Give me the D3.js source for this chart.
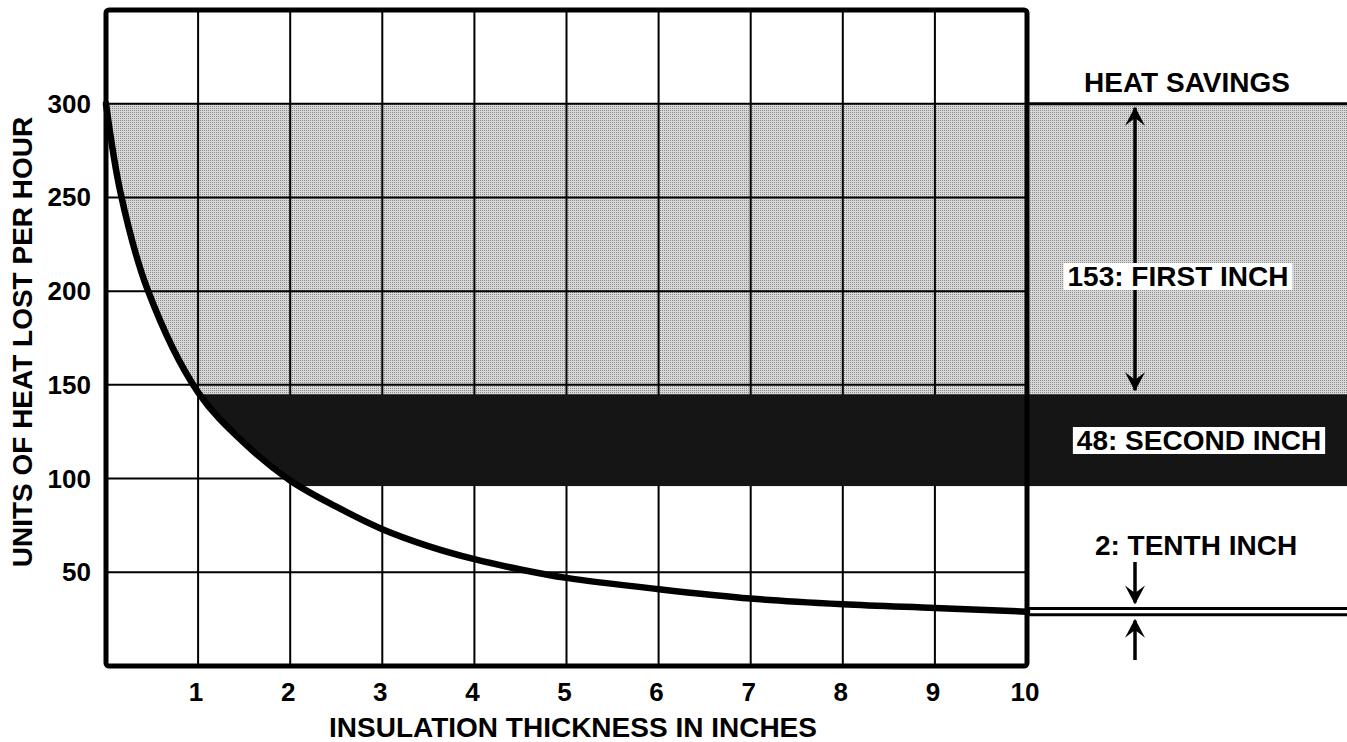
<!DOCTYPE html>
<html>
<head>
<meta charset="utf-8">
<script src="https://cdn.jsdelivr.net/npm/d3@7"></script>
<style>
  body { margin: 0; background: #fff; }
  text { font-family: "Liberation Sans", Arial, sans-serif; font-weight: bold; fill: #000; }
</style>
</head>
<body>
<div id="chart"></div>
<script>
// values
const thickness = [0, 0.16, 0.45, 1, 1.5, 2, 2.5, 3, 3.5, 4, 4.5, 5, 6, 7, 8, 9, 10];
const heatLost  = [300, 252, 201, 146, 119, 99, 85, 73, 64, 57, 51.5, 47, 41, 36, 33, 31, 29];

const xTicks = [1, 2, 3, 4, 5, 6, 7, 8, 9, 10];
const yTicks = [50, 100, 150, 200, 250, 300];

// heat savings bands: top of first inch, end of first inch, end of second inch
const bandLevels = [300, 145, 96];
// levels at 9 and 10 inches (the two close lines)
const tenthLevels = [30.7, 27.4];

const savingsLabels = ["153: FIRST INCH", "48: SECOND INCH", "2: TENTH INCH"];

// set the dimensions of the graph
const width = 1347, height = 742;

const svg = d3.select("#chart")
    .append("svg")
    .attr("width", width)
    .attr("height", height);

const x = d3.scaleLinear().domain([0, 10]).range([106, 1027]);
const y = d3.scaleLinear().domain([0, 350]).range([666, 10]);

const data = thickness.map((t, i) => ({t: t, v: heatLost[i]}));

const line = d3.line()
    .x(d => x(d.t))
    .y(d => y(d.v))
    .curve(d3.curveCatmullRom.alpha(0.5));

// halftone-like pattern for the light band
const defs = svg.append("defs");
const pat = defs.append("pattern")
    .attr("id", "dots")
    .attr("width", 2).attr("height", 2)
    .attr("patternUnits", "userSpaceOnUse");
pat.append("rect").attr("width", 2).attr("height", 2).attr("fill", "#d8d8d8");
pat.append("rect").attr("width", 1).attr("height", 1).attr("fill", "#8c8c8c");

// clip: everything to the right of / above the curve
const last = data[data.length - 1];
defs.append("clipPath").attr("id", "aboveCurve")
    .append("path")
    .attr("d", line(data) + `L${width},${y(last.v)}L${width},0L${x(0)},0Z`);

const bands = svg.append("g").attr("clip-path", "url(#aboveCurve)");

// first inch (light)
bands.append("rect")
    .attr("x", x(0)).attr("width", width - x(0))
    .attr("y", y(bandLevels[0])).attr("height", y(bandLevels[1]) - y(bandLevels[0]))
    .attr("fill", "url(#dots)");

// grid
const grid = svg.append("g").attr("stroke", "#000").attr("stroke-width", 2);
grid.selectAll(".vx").data(xTicks.slice(0, -1)).join("line")
    .attr("x1", d => x(d)).attr("x2", d => x(d))
    .attr("y1", y(350)).attr("y2", y(0));
grid.selectAll(".hy").data(yTicks).join("line")
    .attr("x1", x(0)).attr("x2", x(10))
    .attr("y1", d => y(d)).attr("y2", d => y(d));

// second inch (dark), drawn over the grid
svg.append("g").attr("clip-path", "url(#aboveCurve)")
    .append("rect")
    .attr("x", x(0)).attr("width", width - x(0))
    .attr("y", y(bandLevels[1])).attr("height", y(bandLevels[2]) - y(bandLevels[1]))
    .attr("fill", "#151515");

// curve
svg.append("path")
    .datum(data)
    .attr("d", line)
    .attr("fill", "none")
    .attr("stroke", "#000")
    .attr("stroke-width", 6.5)
    .attr("stroke-linecap", "round");

// frame
svg.append("rect")
    .attr("x", x(0)).attr("y", y(350))
    .attr("width", x(10) - x(0)).attr("height", y(0) - y(350))
    .attr("rx", 3)
    .attr("fill", "none")
    .attr("stroke", "#000")
    .attr("stroke-width", 5);

// right panel lines
svg.append("line")
    .attr("x1", x(10)).attr("x2", width)
    .attr("y1", y(bandLevels[0])).attr("y2", y(bandLevels[0]))
    .attr("stroke", "#000").attr("stroke-width", 3);
svg.selectAll(".tenth").data(tenthLevels).join("line")
    .attr("x1", x(10)).attr("x2", width)
    .attr("y1", d => y(d)).attr("y2", d => y(d))
    .attr("stroke", "#000").attr("stroke-width", 3);

// tick labels
svg.selectAll(".xl").data(xTicks).join("text")
    .attr("x", d => x(d) - 2)
    .attr("y", 701)
    .attr("text-anchor", "middle")
    .attr("font-size", 26)
    .text(d => d);
svg.selectAll(".yl").data(yTicks).join("text")
    .attr("x", 91)
    .attr("y", d => y(d) + 9)
    .attr("text-anchor", "end")
    .attr("font-size", 26)
    .text(d => d);

// axis titles
svg.append("text")
    .attr("x", 573).attr("y", 737)
    .attr("text-anchor", "middle")
    .attr("font-size", 28)
    .text("INSULATION THICKNESS IN INCHES");
svg.append("text")
    .attr("transform", "translate(32,342) rotate(-90)")
    .attr("text-anchor", "middle")
    .attr("font-size", 28)
    .text("UNITS OF HEAT LOST PER HOUR");

// arrows
const arrowX = 1135;
function arrowHead(px, py, dir) {
    // dir 1 = pointing down, -1 = pointing up
    const h = 19 * dir;
    svg.append("path")
        .attr("d", `M${px},${py} L${px - 10},${py - h} L${px},${py - h * 0.6} L${px + 10},${py - h} Z`)
        .attr("fill", "#000");
}
svg.append("line")
    .attr("x1", arrowX).attr("x2", arrowX)
    .attr("y1", y(bandLevels[0]) + 4).attr("y2", y(bandLevels[1]) - 4)
    .attr("stroke", "#000").attr("stroke-width", 3.5);
arrowHead(arrowX, y(bandLevels[0]) + 3, -1);
arrowHead(arrowX, y(bandLevels[1]) - 3, 1);

svg.append("line")
    .attr("x1", arrowX).attr("x2", arrowX)
    .attr("y1", 562).attr("y2", y(tenthLevels[0]) - 6)
    .attr("stroke", "#000").attr("stroke-width", 3.5);
arrowHead(arrowX, y(tenthLevels[0]) - 4, 1);
svg.append("line")
    .attr("x1", arrowX).attr("x2", arrowX)
    .attr("y1", y(tenthLevels[1]) + 6).attr("y2", 660)
    .attr("stroke", "#000").attr("stroke-width", 3.5);
arrowHead(arrowX, y(tenthLevels[1]) + 4, -1);

// annotation labels
function label(txt, cx, base, boxed) {
    const g = svg.append("g");
    const t = g.append("text")
        .attr("x", cx).attr("y", base)
        .attr("text-anchor", "middle")
        .attr("font-size", 28)
        .text(txt);
    if (boxed) {
        const b = t.node().getBBox();
        g.insert("rect", "text")
            .attr("x", b.x - 4).attr("y", base - 23)
            .attr("width", b.width + 8).attr("height", 27)
            .attr("fill", "#fff");
    }
}
label("HEAT SAVINGS", 1187, 92, false);
label(savingsLabels[0], 1178, 286, true);
label(savingsLabels[1], 1199, 450, true);
label(savingsLabels[2], 1196, 555, false);
</script>
</body>
</html>
